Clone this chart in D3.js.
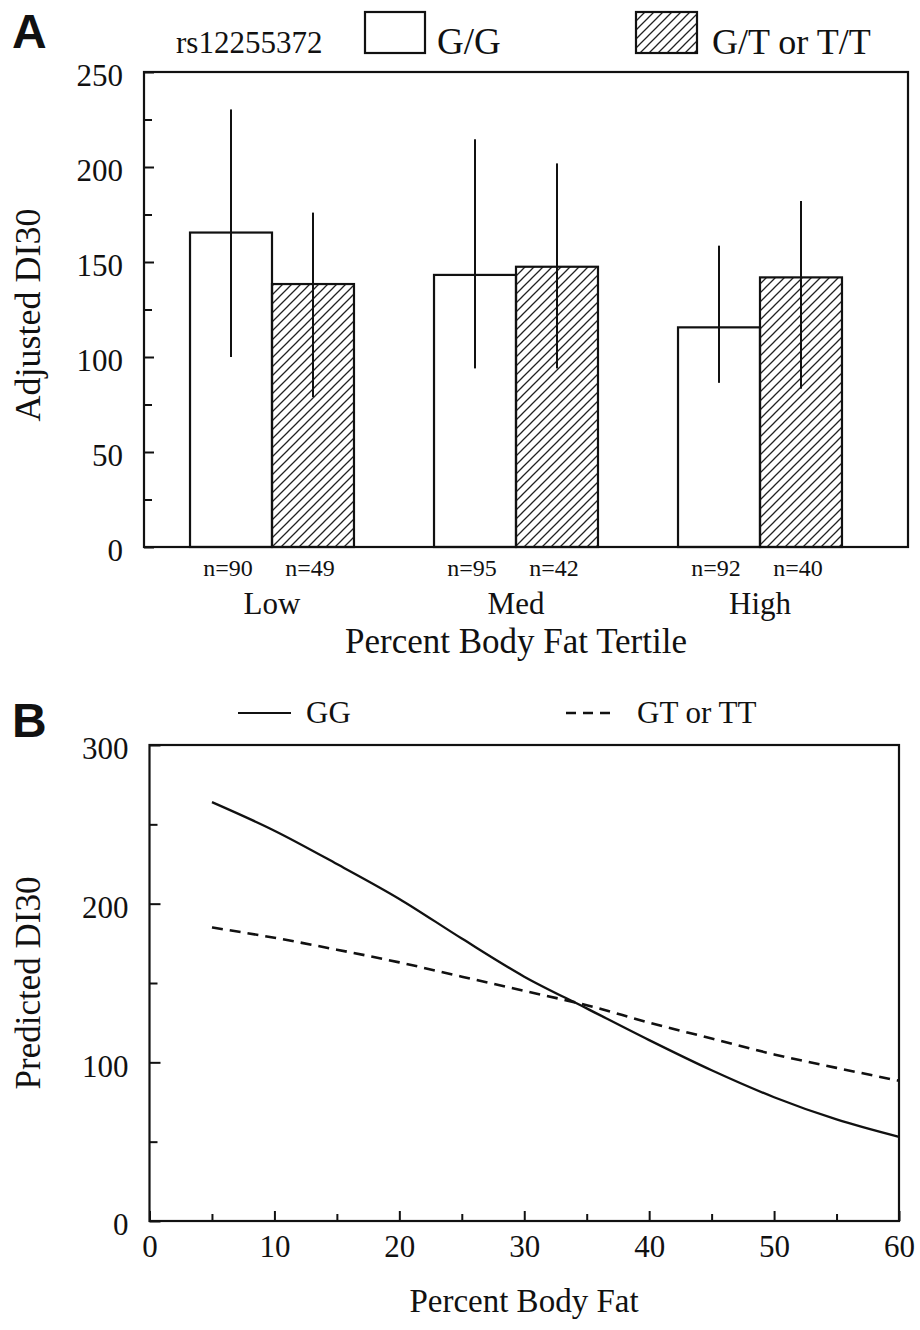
<!DOCTYPE html>
<html>
<head>
<meta charset="utf-8">
<script src="https://cdn.jsdelivr.net/npm/d3@7/dist/d3.min.js"></script>
<style>
body { margin: 0; background: #fff; }
text { font-family: "Liberation Serif", "Times New Roman", serif; fill: #111; }
text.panel { font-family: "Liberation Sans", Arial, sans-serif; font-weight: bold; }
</style>
</head>
<body>
<svg id="fig" width="920" height="1330"></svg>
<script>
// panel A data
var groups = ["Low", "Med", "High"];
var genotypes = ["G/G", "G/T or T/T"];
var meanGG = [165.5, 143.2, 115.6];
var meanGT = [138.4, 147.5, 141.9];
var lowGG = [100, 94, 86.4];
var highGG = [230.3, 214.6, 158.6];
var lowGT = [78.9, 94, 83.3];
var highGT = [176, 201.9, 182.1];
var nGG = [90, 95, 92];
var nGT = [49, 42, 40];
var ticksA = [0, 25, 50, 75, 100, 125, 150, 175, 200, 225, 250];

// panel B data
var bodyFat = [5, 10, 15, 20, 25, 30, 35, 40, 45, 50, 55, 60];
var predGG = [264, 246, 225, 203, 178, 154, 134, 114, 95, 78, 64, 53];
var predGT = [185, 178.5, 171, 163, 154, 145, 136, 125, 115, 105, 96.5, 88.4];
var ticksBy = [0, 50, 100, 150, 200, 250, 300];
var ticksBx = [0, 5, 10, 15, 20, 25, 30, 35, 40, 45, 50, 55, 60];

var svg = d3.select("#fig");

var defs = svg.append("defs");
defs.append("pattern")
    .attr("id", "hatch")
    .attr("patternUnits", "userSpaceOnUse")
    .attr("width", 9)
    .attr("height", 9)
    .append("path")
    .attr("d", "M0,9 L9,0 M-2,2 L2,-2 M7,11 L11,7")
    .attr("stroke", "#222")
    .attr("stroke-width", 1.3);

function styleAxis(g, size) {
    g.select(".domain").remove();
    g.attr("font-size", size);
    g.selectAll("line").attr("stroke", "#111").attr("stroke-width", 2);
    g.selectAll("text").attr("fill", "#111");
}

// ---------- panel A ----------
var aL = 144, aR = 908, aT = 72, aB = 547;
var yA = d3.scaleLinear().domain([0, 250]).range([aB, aT]);
var x0 = d3.scaleBand().domain(groups).range([150, 882])
    .paddingInner(0.328).paddingOuter(0.164);
var x1 = d3.scaleBand().domain(genotypes).range([0, x0.bandwidth()]);

var rows = groups.map((g, i) => [
    {group: g, geno: genotypes[0], mean: meanGG[i], lo: lowGG[i], hi: highGG[i], n: nGG[i]},
    {group: g, geno: genotypes[1], mean: meanGT[i], lo: lowGT[i], hi: highGT[i], n: nGT[i]}
]).flat();

var gA = svg.append("g");

var axA = gA.append("g")
    .attr("transform", `translate(${aL},0)`)
    .call(d3.axisLeft(yA).tickValues(ticksA).tickSize(-10).tickPadding(21)
        .tickFormat(d => d % 50 === 0 ? d : ""));
styleAxis(axA, 31);
axA.selectAll(".tick").filter(d => d % 50 !== 0).select("line").attr("x2", 8);
axA.selectAll("text").attr("dy", "0.42em");

gA.selectAll(".bar")
    .data(rows)
    .join("rect")
    .attr("class", "bar")
    .attr("x", d => x0(d.group) + x1(d.geno))
    .attr("y", d => yA(d.mean))
    .attr("width", x1.bandwidth())
    .attr("height", d => yA(0) - yA(d.mean))
    .attr("fill", d => d.geno === genotypes[0] ? "#fff" : "url(#hatch)")
    .attr("stroke", "#111")
    .attr("stroke-width", 2.2);

gA.selectAll(".err")
    .data(rows)
    .join("line")
    .attr("class", "err")
    .attr("x1", d => x0(d.group) + x1(d.geno) + x1.bandwidth() / 2)
    .attr("x2", d => x0(d.group) + x1(d.geno) + x1.bandwidth() / 2)
    .attr("y1", d => yA(d.hi))
    .attr("y2", d => yA(d.lo))
    .attr("stroke", "#111")
    .attr("stroke-width", 2);

gA.append("rect")
    .attr("x", aL).attr("y", aT)
    .attr("width", aR - aL).attr("height", aB - aT)
    .attr("fill", "none").attr("stroke", "#111").attr("stroke-width", 2.2);

gA.selectAll(".nlab")
    .data(rows)
    .join("text")
    .attr("class", "nlab")
    .attr("x", d => x0(d.group) + x1(d.geno) + x1.bandwidth() / 2 - 3)
    .attr("y", 576)
    .attr("text-anchor", "middle")
    .attr("font-size", 24)
    .text(d => "n=" + d.n);

gA.selectAll(".glab")
    .data(groups)
    .join("text")
    .attr("class", "glab")
    .attr("x", d => x0(d) + x0.bandwidth() / 2)
    .attr("y", 614)
    .attr("text-anchor", "middle")
    .attr("font-size", 31)
    .text(d => d);

gA.append("text")
    .attr("x", 516).attr("y", 653)
    .attr("text-anchor", "middle")
    .attr("font-size", 35)
    .text("Percent Body Fat Tertile");

gA.append("text")
    .attr("transform", "translate(40,315) rotate(-90)")
    .attr("text-anchor", "middle")
    .attr("font-size", 36)
    .text("Adjusted DI30");

// legend A
gA.append("text").attr("x", 176).attr("y", 53).attr("font-size", 31).text("rs12255372");
gA.append("rect").attr("x", 365).attr("y", 12).attr("width", 60).attr("height", 41)
    .attr("fill", "#fff").attr("stroke", "#111").attr("stroke-width", 2.2);
gA.append("text").attr("x", 437).attr("y", 54).attr("font-size", 37).text(genotypes[0]);
gA.append("rect").attr("x", 636).attr("y", 12).attr("width", 61).attr("height", 41)
    .attr("fill", "url(#hatch)").attr("stroke", "#111").attr("stroke-width", 2.2);
gA.append("text").attr("x", 712).attr("y", 54).attr("font-size", 36).text(genotypes[1]);

svg.append("text")
    .attr("class", "panel")
    .attr("x", 12).attr("y", 48)
    .attr("font-size", 48)
    .text("A");

// ---------- panel B ----------
var bl = 149.5, br = 899, bt = 745, bb = 1221;
var xB = d3.scaleLinear().domain([0, 60]).range([bl, br]);
var yB = d3.scaleLinear().domain([0, 300]).range([bb, bt]);

var gB = svg.append("g");

var axBy = gB.append("g")
    .attr("transform", `translate(${bl},0)`)
    .call(d3.axisLeft(yB).tickValues(ticksBy).tickSize(-11).tickPadding(21)
        .tickFormat(d => d % 100 === 0 ? d : ""));
styleAxis(axBy, 31);
axBy.selectAll(".tick").filter(d => d % 100 !== 0).select("line").attr("x2", 8);
axBy.selectAll("text").attr("dy", "0.45em");

var axBx = gB.append("g")
    .attr("transform", `translate(0,${bb})`)
    .call(d3.axisBottom(xB).tickValues(ticksBx).tickSize(-10).tickPadding(14)
        .tickFormat(d => d % 10 === 0 ? d : ""));
styleAxis(axBx, 31);
axBx.selectAll(".tick").filter(d => d % 10 !== 0).select("line").attr("y2", -7);

gB.append("rect")
    .attr("x", bl).attr("y", bt)
    .attr("width", br - bl).attr("height", bb - bt)
    .attr("fill", "none").attr("stroke", "#111").attr("stroke-width", 2.2);

var line = d3.line()
    .x((d, i) => xB(bodyFat[i]))
    .y(d => yB(d))
    .curve(d3.curveMonotoneX);

gB.append("path")
    .attr("d", line(predGG))
    .attr("fill", "none").attr("stroke", "#111").attr("stroke-width", 2.3);

gB.append("path")
    .attr("d", line(predGT))
    .attr("fill", "none").attr("stroke", "#111").attr("stroke-width", 2.6)
    .attr("stroke-dasharray", "11,7");

gB.append("text")
    .attr("x", 524).attr("y", 1312)
    .attr("text-anchor", "middle")
    .attr("font-size", 33)
    .text("Percent Body Fat");

gB.append("text")
    .attr("transform", "translate(40,983) rotate(-90)")
    .attr("text-anchor", "middle")
    .attr("font-size", 35)
    .text("Predicted DI30");

// legend B
gB.append("line").attr("x1", 238).attr("x2", 291).attr("y1", 713).attr("y2", 713)
    .attr("stroke", "#111").attr("stroke-width", 2.2);
gB.append("text").attr("x", 306).attr("y", 723).attr("font-size", 31).text("GG");
gB.append("line").attr("x1", 566).attr("x2", 614).attr("y1", 713).attr("y2", 713)
    .attr("stroke", "#111").attr("stroke-width", 2.4).attr("stroke-dasharray", "10,7");
gB.append("text").attr("x", 637).attr("y", 723).attr("font-size", 31).text("GT or TT");

svg.append("text")
    .attr("class", "panel")
    .attr("x", 12).attr("y", 737)
    .attr("font-size", 48)
    .text("B");
</script>
</body>
</html>
